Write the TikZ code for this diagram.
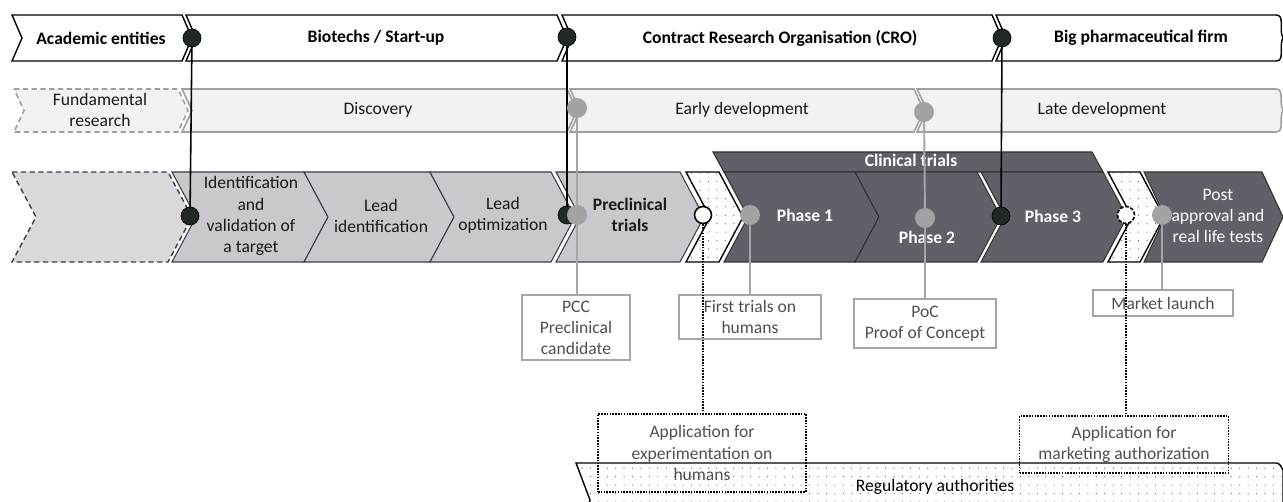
\documentclass[tikz,border=0pt]{standalone}
\usepackage{fontspec}
\setmainfont{Carlito}
\usetikzlibrary{patterns.meta}
\definecolor{rowtwo}{HTML}{F2F2F2}
\definecolor{rowtwoline}{HTML}{A0A0A0}
\definecolor{lightchev}{HTML}{C9C9CD}
\definecolor{dashchev}{HTML}{D9D9D9}
\definecolor{darkchev}{HTML}{606068}
\definecolor{chevline}{HTML}{3C3C48}
\definecolor{conngray}{HTML}{A6A6A6}
\definecolor{dotgray}{HTML}{A3A3A3}
\definecolor{boxtext}{HTML}{505050}
\definecolor{navy}{HTML}{3A3A55}
\definecolor{blackdot}{HTML}{222826}
\pgfdeclarelayer{fg}
\pgfsetlayers{main,fg}
% x1 x2 ytop ybot depth style
\newcommand{\chev}[6]{\path[#6] (#1,#3) -- (#2,#3) -- ({#2+#5},{(#3+#4)/2}) -- (#2,#4) -- (#1,#4) -- ({#1+#5},{(#3+#4)/2}) -- cycle;}
\tikzset{
  topchev/.style={draw=black, line width=0.8pt, fill=white, line join=miter},
  midchev/.style={draw=rowtwoline, line width=0.9pt, fill=rowtwo},
  lowchev/.style={draw=chevline, line width=0.6pt, fill=lightchev},
  darkc/.style={draw=black!80, line width=0.6pt, fill=darkchev},
  dotchev/.style={draw=black, line width=0.8pt, fill=white, postaction={pattern={Dots[distance=4.8pt, radius=0.35pt]}, pattern color=black!60}},
  toptext/.style={font=\bfseries, text=black},
  midtext/.style={text=black!90, align=center},
  lowtext/.style={text=black!90, align=center},
  phasetext/.style={font=\bfseries, text=white, align=center},
  bdot/.style={circle, fill=blackdot, draw=black, line width=0.4pt, inner sep=0pt, minimum size=0.36cm},
  gdot/.style={circle, fill=dotgray, inner sep=0pt, minimum size=0.4cm},
  wdot/.style={circle, fill=white, draw=black, line width=0.9pt, inner sep=0pt, minimum size=0.34cm},
  infobox/.style={draw=conngray, line width=1pt, fill=white, text=boxtext, align=center, inner sep=0pt},
  appbox/.style={draw=black, line width=0.9pt, dash pattern=on 0.9pt off 0.7pt, text=boxtext, align=center, inner sep=0pt},
  blackconn/.style={draw=black, line width=0.9pt},
  grayconn/.style={draw=conngray, line width=1.1pt},
  dotconn/.style={draw=black, line width=0.9pt, dash pattern=on 0.9pt off 0.7pt},
}
\begin{document}
\begin{tikzpicture}[x=0.02cm, y=-0.02cm]
\useasboundingbox (0,0) rectangle (1283,502);
\clip (0,0) rectangle (1283,502);
% ---------- Row 1: actors ----------
\chev{12}{182}{15}{61}{10}{topchev}
\chev{186}{557}{15}{61}{10}{topchev}
\chev{562}{992}{15}{61}{10}{topchev}
\path[topchev] (996,15) -- (1276,15) to[out=0,in=120] (1283,38) to[out=-120,in=0] (1276,61) -- (996,61) -- (1006,38) -- cycle;
% ---------- Row 2: stages ----------
\chev{14}{178}{89}{132}{10}{draw=rowtwoline, line width=0.9pt, dash pattern=on 3pt off 2pt, fill=rowtwo}
\chev{182}{567}{89}{132}{10}{midchev}
\chev{570}{914}{89}{132}{10}{midchev}
\path[midchev] (917,89) -- (1276,89) to[out=0,in=120] (1283,110) to[out=-120,in=0] (1276,132) -- (917,132) -- (927,110) -- cycle;
% ---------- Row 3: steps ----------
\chev{12}{168}{172}{262}{24}{draw=navy, line width=0.8pt, dash pattern=on 3pt off 2pt, fill=dashchev}
\chev{172}{304}{172}{262}{24}{lowchev}
\chev{304}{430}{172}{262}{24}{lowchev}
\chev{430}{551}{172}{262}{24}{lowchev}
\chev{556}{680}{172}{262}{24}{lowchev}
\chev{686}{719}{172}{262}{24}{dotchev}
\path[darkc] (713,152) -- (1092,152) -- (1103,172) -- (724,172) -- cycle;
\chev{724}{855}{172}{262}{24}{darkc}
\chev{855}{977}{172}{262}{24}{darkc}
\chev{981}{1103}{172}{262}{24}{darkc}
\chev{1108}{1140}{172}{262}{24}{dotchev}
\chev{1144}{1262}{172}{262}{21}{darkc}
% ---------- Regulatory band ----------
\path[draw=black, line width=0.8pt, fill=white, postaction={pattern={Dots[distance=4.8pt, radius=0.35pt]}, pattern color=black!60}]
  (576,463) -- (1276,463) to[out=0,in=120] (1283,470) -- (1283,540) -- (576,540) -- (590,500) -- cycle;
% ---------- Texts ----------
\node[toptext] (tacad) at (101,38) {Academic entities};
\node[toptext] (tbio) at (376,38) {Biotechs / Start-up};
\node[toptext] (tcro) at (780,38) {Contract Research Organisation (CRO)};
\node[toptext] (tbig) at (1141,38) {Big pharmaceutical firm};
\node[midtext] (tfund) at (100,110) {Fundamental\\research};
\node[midtext] (tdisc) at (378,110) {Discovery};
\node[midtext] (tearly) at (742,110) {Early development};
\node[midtext] (tlate) at (1102,110) {Late development};
\node[lowtext] (tident) at (251,216) {Identification\\and\\validation of\\a target};
\node[lowtext] (tleadid) at (381,216) {Lead\\identification};
\node[lowtext] (tleadopt) at (503,215) {Lead\\optimization};
\node[lowtext, font=\bfseries] (tprecl) at (630,215) {Preclinical\\trials};
\node[phasetext] (tclin) at (911,160) {Clinical trials};
\node[phasetext] (tph1) at (805,215) {Phase 1};
\node[phasetext] (tph2) at (927,237) {Phase 2};
\node[phasetext] (tph3) at (1053,216) {Phase 3};
\node[lowtext, text=white] (tpost) at (1218,216) {Post\\approval and\\real life tests};
\node[text=black] (treg) at (935,487) {Regulatory authorities};
% ---------- Boxes ----------
\node[infobox, minimum width=2.16cm, minimum height=1.3cm] (pcc) at (576,327.5) {PCC\\Preclinical\\candidate};
\node[infobox, minimum width=2.84cm, minimum height=0.88cm] (first) at (750,317) {First trials on\\humans};
\node[infobox, minimum width=2.84cm, minimum height=0.98cm] (poc) at (925,323.5) {PoC\\Proof of Concept};
\node[infobox, minimum width=2.8cm, minimum height=0.52cm] (market) at (1163,303) {Market launch};
\node[appbox, minimum width=4.16cm, minimum height=1.56cm] (appexp) at (702,453) {Application for\\experimentation on\\humans};
\node[appbox, minimum width=4.18cm, minimum height=1.14cm] (appmkt) at (1124,444.5) {Application for\\marketing authorization};
% ---------- Dots (foreground) ----------
\begin{pgfonlayer}{fg}
\node[bdot] (d1) at (192,38) {};
\node[bdot] (d2) at (567,37) {};
\node[bdot] (d3) at (1002,38) {};
\node[gdot] (g1) at (577,108) {};
\node[gdot] (g2) at (924,112) {};
\node[bdot] (b1) at (190,216) {};
\node[bdot] (b2) at (567,215) {};
\node[gdot] (g3) at (577,215) {};
\node[wdot] (w1) at (703,215) {};
\node[gdot] (g4) at (750,215) {};
\node[gdot] (g5) at (925,218) {};
\node[bdot] (b3) at (1001,216) {};
\node[wdot, dash pattern=on 2pt off 1pt] (w2) at (1126,215) {};
\node[gdot] (g6) at (1162,215) {};
\end{pgfonlayer}
% ---------- Connectors ----------
\draw[blackconn] (d1.center) -- (b1.center);
\draw[blackconn] (d2.center) -- (b2.center);
\draw[blackconn] (d3.center) -- (b3.center);
\draw[grayconn] (g1.center) -- (g3.center) -- (g3 |- pcc.north);
\draw[grayconn] (g4.center) -- (g4 |- first.north);
\draw[grayconn] (g2.center) -- (g5.center) -- (g5 |- poc.north);
\draw[grayconn] (g6.center) -- (g6 |- market.north);
\draw[dotconn] (w1.south) -- (w1 |- appexp.north);
\draw[dotconn] (w2.south) -- (w2 |- appmkt.north);
\end{tikzpicture}
\end{document}
